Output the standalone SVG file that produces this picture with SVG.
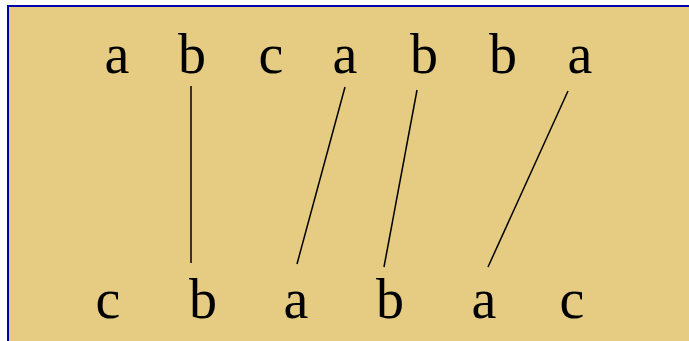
<svg xmlns="http://www.w3.org/2000/svg" width="689" height="341" viewBox="0 0 689 341">
<style>
.t{font-family:"Liberation Serif","DejaVu Serif",serif;font-size:56px;fill:#000;text-anchor:middle}
.c{stroke:#000;stroke-width:1.5;fill:none}
</style>
<rect x="0" y="0" width="689" height="341" fill="#ffffff"/>
<rect x="8" y="6" width="700" height="345" fill="#E5CC82" stroke="#0000AA" stroke-width="2"/>
<g id="top">
<g id="t1"><text class="t" x="117" y="73">a</text></g>
<g id="t2"><text class="t" x="192" y="73">b</text></g>
<g id="t3"><text class="t" x="271" y="73">c</text></g>
<g id="t4"><text class="t" x="345" y="73">a</text></g>
<g id="t5"><text class="t" x="424" y="73">b</text></g>
<g id="t6"><text class="t" x="503" y="73">b</text></g>
<g id="t7"><text class="t" x="580" y="73">a</text></g>
</g>
<g id="bottom">
<g id="b1"><text class="t" x="108" y="318">c</text></g>
<g id="b2"><text class="t" x="203" y="318">b</text></g>
<g id="b3"><text class="t" x="296" y="318">a</text></g>
<g id="b4"><text class="t" x="390" y="318">b</text></g>
<g id="b5"><text class="t" x="484" y="318">a</text></g>
<g id="b6"><text class="t" x="572" y="318">c</text></g>
</g>
<g id="connectors">
<line class="c" x1="191" y1="86" x2="191" y2="263"/>
<line class="c" x1="345" y1="87" x2="297" y2="264"/>
<line class="c" x1="417" y1="90" x2="384" y2="267"/>
<line class="c" x1="568" y1="91" x2="488" y2="267"/>
</g>
</svg>
